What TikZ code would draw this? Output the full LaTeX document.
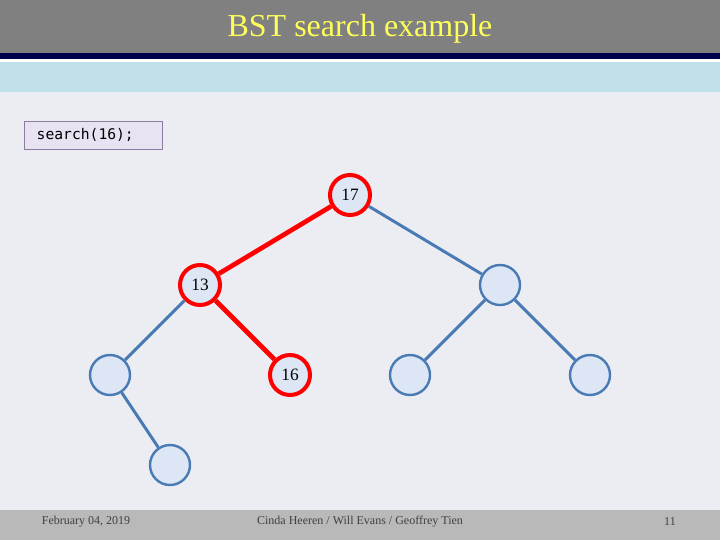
\documentclass[tikz,border=0pt]{standalone}
\usepackage{fontspec}
\setmainfont{Liberation Serif}
\newfontfamily\monofont{DejaVu Sans Mono}
\begin{document}
\begin{tikzpicture}[x=0.75pt,y=-0.75pt,
  tn/.style={circle,draw=steel,line width=1.8pt,fill=nodefill,minimum size=30pt,inner sep=0pt,font=\fontsize{13}{13}\selectfont},
  hn/.style={tn,draw=red,line width=3pt},
  ed/.style={draw=steel,line width=2.2pt},
  he/.style={draw=red,line width=3.5pt}]
\definecolor{bg}{RGB}{235,237,242}
\definecolor{steel}{RGB}{74,122,180}
\definecolor{nodefill}{RGB}{220,230,245}
\definecolor{ttl}{RGB}{255,255,90}
\definecolor{band}{RGB}{192,224,234}
\definecolor{boxfill}{RGB}{232,226,242}
\definecolor{boxline}{RGB}{140,125,160}
\fill[bg] (0,0) rectangle (720,540);
\fill[gray] (0,0) rectangle (720,53);
\fill[blue!30!black] (0,53) rectangle (720,59);
\fill[white] (0,59) rectangle (720,62);
\fill[band] (0,62) rectangle (720,92);
\node[text=ttl,font=\fontsize{24}{24}\selectfont] (title) at (360,29) {BST search example};
\node[draw=boxline,fill=boxfill,minimum width=103.5pt,minimum height=21pt,anchor=north west,inner sep=0pt] (box) at (24,121) {\monofont\fontsize{11}{11}\selectfont search(16);\hspace*{12pt}};
\fill[gray!55] (0,510) rectangle (720,540);
\node[text=black!75] (f1) at (86,522) {\fontsize{9}{9}\selectfont February 04, 2019};
\node[text=black!75] (f2) at (360,522) {\fontsize{9}{9}\selectfont Cinda Heeren / Will Evans / Geoffrey Tien};
\node[text=black!75] (f3) at (670,522) {\fontsize{9}{9}\selectfont 11};
\node[hn] (a) at (350,195) {17};
\node[hn] (b) at (200,285) {13};
\node[tn] (c) at (500,285) {};
\node[tn] (d) at (110,375) {};
\node[hn] (e) at (290,375) {16};
\node[tn] (f) at (410,375) {};
\node[tn] (g) at (590,375) {};
\node[tn] (h) at (170,465) {};
\draw[ed] (a)--(c); \draw[ed] (b)--(d); \draw[ed] (c)--(f); \draw[ed] (c)--(g); \draw[ed] (d)--(h);
\draw[he] (a)--(b); \draw[he] (b)--(e);
\end{tikzpicture}
\end{document}
